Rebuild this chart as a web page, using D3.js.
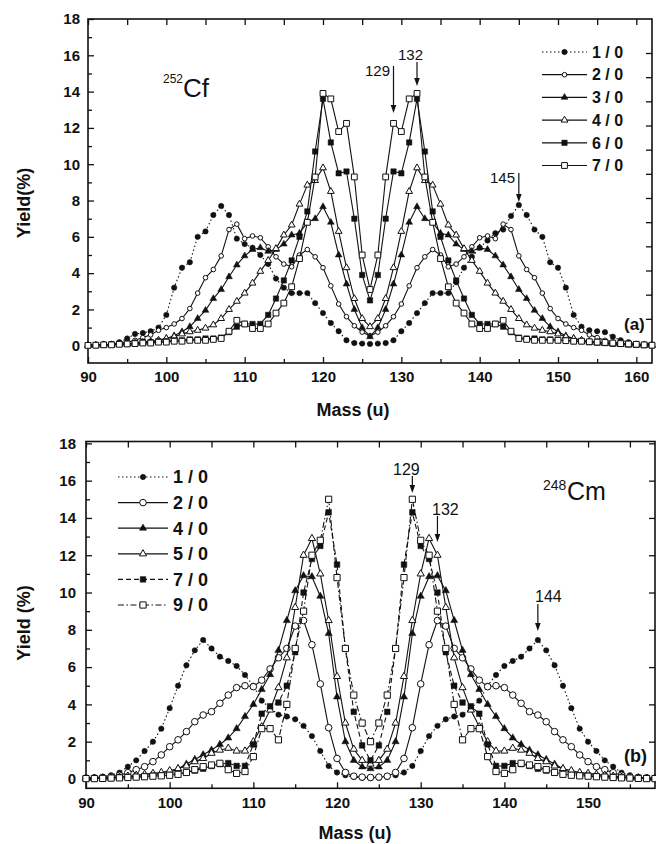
<!DOCTYPE html>
<html>
<head>
<meta charset="utf-8">
<script src="https://cdn.jsdelivr.net/npm/d3@7"></script>
<style>
  body { margin: 0; background: #fff; }
  svg { display: block; }
</style>
</head>
<body>
<svg id="chart" width="656" height="844"></svg>
<script>
// ---------- data ----------
// Mass numbers (u) on each panel
const cfMass = d3.range(90, 163);   // 90 .. 162
const cmMass = d3.range(90, 159);   // 90 .. 158

// 252Cf yields (%) per mass number, one array per curve
const cf10 = [0.05,0.05,0.08,0.1,0.2,0.4,0.65,0.7,0.8,1.0,
  1.7,3.2,4.3,4.6,6.0,6.3,7.2,7.7,7.2,5.9,
  5.6,5.4,5.0,4.5,3.7,3.2,2.9,2.9,2.9,2.35,
  1.8,1.25,0.8,0.3,0.15,0.12,0.1,0.12,0.15,0.3,
  0.8,1.25,1.8,2.35,2.9,2.9,2.9,3.5,4.3,4.9,
  5.4,5.8,6.2,6.4,7.15,7.75,7.2,6.4,6.0,4.6,
  4.3,3.2,1.7,1.05,0.85,0.8,0.75,0.5,0.3,0.2,
  0.1,0.08,0.05];
const cf20 = [0.05,0.05,0.08,0.1,0.15,0.2,0.3,0.45,0.6,0.85,
  1.0,1.2,1.5,2.05,2.9,3.75,4.2,4.95,6.4,6.7,
  5.9,6.05,5.95,5.45,4.9,4.5,4.35,5.0,5.3,4.9,
  4.3,3.3,2.3,1.6,1.1,0.75,0.55,0.75,1.1,1.6,
  2.3,3.3,4.3,4.9,5.3,5.0,4.35,4.5,4.9,5.45,
  5.95,6.05,5.9,6.7,6.4,4.95,4.2,3.75,2.9,2.05,
  1.5,1.2,1.0,0.85,0.6,0.45,0.3,0.2,0.15,0.1,
  0.08,0.05,0.05];
const cf30 = [0.03,0.03,0.05,0.05,0.08,0.1,0.15,0.2,0.25,0.3,
  0.4,0.55,0.77,1.05,1.5,1.95,2.6,3.1,3.8,4.45,
  4.95,5.3,5.4,5.2,5.3,5.6,6.1,6.2,6.8,7.0,
  7.66,6.8,5.0,3.4,2.0,1.0,0.5,1.0,2.0,3.4,
  5.0,6.8,7.66,7.0,6.8,6.2,6.1,5.6,5.3,5.2,
  5.4,5.3,4.95,4.45,3.8,3.1,2.6,1.95,1.5,1.05,
  0.77,0.55,0.4,0.3,0.25,0.2,0.15,0.1,0.08,0.05,
  0.05,0.03,0.03];
const cf40 = [0.03,0.03,0.05,0.05,0.08,0.1,0.12,0.15,0.2,0.3,
  0.4,0.5,0.65,0.77,0.85,0.97,1.15,1.5,2.0,2.45,
  2.9,3.45,4.1,4.7,5.35,6.1,6.65,7.8,8.85,9.1,
  9.8,8.5,6.3,4.3,2.6,1.5,1.05,1.5,2.6,4.3,
  6.3,8.5,9.8,9.1,8.85,7.8,6.65,6.1,5.35,4.7,
  4.1,3.45,2.9,2.45,2.0,1.5,1.15,0.97,0.85,0.77,
  0.65,0.5,0.4,0.3,0.2,0.15,0.12,0.1,0.08,0.05,
  0.05,0.03,0.03];
const cf60 = [0.02,0.03,0.05,0.08,0.1,0.12,0.15,0.2,0.2,0.25,
  0.25,0.3,0.3,0.35,0.35,0.4,0.4,0.45,0.75,1.05,
  1.2,1.2,1.2,1.7,2.6,3.6,4.7,6.0,7.4,10.7,
  13.6,11.2,9.5,9.6,7.0,3.9,2.5,3.9,7.0,9.6,
  9.5,11.2,13.6,10.7,7.4,6.0,4.7,3.6,2.6,1.7,
  1.2,1.2,1.2,1.05,0.75,0.45,0.4,0.4,0.35,0.35,
  0.3,0.3,0.25,0.25,0.2,0.2,0.15,0.12,0.1,0.08,
  0.05,0.03,0.02];
const cf70 = [0.02,0.03,0.05,0.05,0.08,0.1,0.12,0.15,0.15,0.2,
  0.2,0.25,0.25,0.3,0.3,0.3,0.35,0.4,0.8,1.4,
  1.2,0.95,0.95,1.2,1.8,2.35,3.25,4.8,6.8,9.3,
  13.9,13.6,11.8,12.25,9.3,5.0,3.1,5.0,9.3,12.25,
  11.8,13.6,13.9,9.3,6.8,4.8,3.25,2.35,1.8,1.2,
  0.95,0.95,1.2,1.4,0.8,0.4,0.35,0.3,0.3,0.3,
  0.3,0.28,0.25,0.25,0.22,0.2,0.18,0.15,0.12,0.1,
  0.08,0.05,0.03];

// 248Cm yields (%) per mass number
const cm10 = [0.05,0.07,0.12,0.2,0.34,0.66,1.0,1.5,2.0,2.7,
  3.8,5.0,6.1,6.9,7.45,7.0,6.56,6.33,6.06,5.58,
  5.0,4.2,3.8,3.45,3.35,3.2,2.85,2.3,1.5,0.7,
  0.35,0.2,0.1,0.06,0.05,0.06,0.1,0.2,0.35,0.7,
  1.5,2.3,2.85,3.2,3.35,3.45,3.8,4.2,5.0,5.58,
  6.06,6.33,6.56,7.0,7.45,6.9,6.1,5.0,3.8,2.7,
  2.0,1.5,1.0,0.66,0.34,0.2,0.12,0.07,0.05];
const cm20 = [0.05,0.06,0.08,0.12,0.2,0.34,0.5,0.66,0.93,1.29,
  1.73,2.1,2.54,3.07,3.43,3.61,4.06,4.5,4.9,5.0,
  4.95,5.3,5.9,6.5,7.0,8.2,8.5,7.2,5.1,2.75,
  1.1,0.35,0.15,0.1,0.08,0.1,0.15,0.35,1.1,2.75,
  5.1,7.2,8.5,8.2,7.0,6.5,5.9,5.3,4.95,5.0,
  4.9,4.5,4.06,3.61,3.43,3.07,2.54,2.1,1.73,1.29,
  0.93,0.66,0.5,0.34,0.2,0.12,0.08,0.06,0.05];
const cm40 = [0.03,0.04,0.05,0.07,0.1,0.12,0.15,0.2,0.25,0.3,
  0.35,0.55,0.8,1.05,1.3,1.55,1.85,2.2,2.7,3.35,
  4.0,4.8,5.6,6.9,8.5,10.1,10.9,10.85,9.8,7.8,
  4.4,2.0,1.0,0.65,0.55,0.65,1.0,2.0,4.4,7.8,
  9.8,10.85,10.9,10.1,8.5,6.9,5.6,4.8,4.0,3.35,
  2.7,2.2,1.85,1.55,1.3,1.05,0.8,0.55,0.35,0.3,
  0.25,0.2,0.15,0.12,0.1,0.07,0.05,0.04,0.03];
const cm50 = [0.03,0.04,0.05,0.07,0.1,0.15,0.2,0.25,0.3,0.35,
  0.45,0.55,0.7,0.93,1.1,1.38,1.55,1.65,1.5,1.5,
  2.0,2.8,3.7,4.9,6.5,9.2,12.0,12.9,11.0,8.5,
  5.5,3.0,1.6,1.0,0.8,1.0,1.6,3.0,5.5,8.5,
  11.0,12.9,12.0,9.2,6.5,4.9,3.7,2.8,2.0,1.5,
  1.5,1.65,1.55,1.38,1.1,0.93,0.7,0.55,0.45,0.35,
  0.3,0.25,0.2,0.15,0.1,0.07,0.05,0.04,0.03];
const cm70 = [0.02,0.03,0.04,0.05,0.08,0.1,0.12,0.15,0.18,0.2,
  0.22,0.3,0.35,0.45,0.55,0.7,0.8,0.85,0.7,0.7,
  1.85,3.5,3.9,4.1,5.0,6.8,10.0,11.8,12.5,14.3,
  11.5,7.0,3.6,1.8,1.0,1.8,3.6,7.0,11.5,14.3,
  12.5,11.8,10.0,6.8,5.0,4.1,3.9,3.5,1.85,0.7,
  0.7,0.85,0.8,0.7,0.55,0.45,0.35,0.3,0.22,0.2,
  0.18,0.15,0.12,0.1,0.08,0.05,0.04,0.03,0.02];
const cm90 = [0.02,0.02,0.03,0.05,0.06,0.08,0.1,0.12,0.15,0.17,
  0.2,0.25,0.35,0.5,0.66,0.75,0.84,0.5,0.3,0.4,
  1.2,2.7,2.7,2.1,4.0,7.0,9.0,12.0,12.8,15.0,
  10.8,7.0,4.5,3.0,2.0,3.0,4.5,7.0,10.8,15.0,
  12.8,12.0,9.0,7.0,4.0,2.1,2.7,2.7,1.2,0.4,
  0.3,0.5,0.84,0.75,0.66,0.5,0.35,0.25,0.2,0.17,
  0.15,0.12,0.1,0.08,0.06,0.05,0.03,0.02,0.02];

// Legend labels
const cfLabels = ["1 / 0", "2 / 0", "3 / 0", "4 / 0", "6 / 0", "7 / 0"];
const cmLabels = ["1 / 0", "2 / 0", "4 / 0", "5 / 0", "7 / 0", "9 / 0"];

// Tick values
const cfXTicks = [90, 100, 110, 120, 130, 140, 150, 160];
const cmXTicks = [90, 100, 110, 120, 130, 140, 150];
const yTicks = [0, 2, 4, 6, 8, 10, 12, 14, 16, 18];

// Arrow-marked masses
const cfMarked = [129, 132, 145];
const cmMarked = [129, 132, 144];

// ---------- drawing ----------
const FONT = "'Liberation Sans', Arial, Helvetica, sans-serif";
const INK = "#111";
const svg = d3.select("#chart");

function markPath(shape, size) {
  if (shape === "circle") return d3.symbol(d3.symbolCircle, Math.PI * size * size)();
  if (shape === "triangle") return d3.symbol(d3.symbolTriangle, size * size * Math.sqrt(3) / 4)();
  return d3.symbol(d3.symbolSquare, size * size)();
}

function styleAxis(g, size) {
  g.attr("font-family", FONT).attr("font-size", size).attr("font-weight", "bold");
  g.select(".domain").remove();
  g.selectAll("line").attr("stroke", INK).attr("stroke-width", 1.3);
  g.selectAll("text").attr("fill", INK);
}

function drawPanel(p) {
  const g = svg.append("g");
  const x = d3.scaleLinear().domain(p.xDomain).range([p.left, p.right]);
  const y = d3.scaleLinear().domain(p.yDomain).range([p.bottom, p.top]);

  // ticks
  const xMinor = d3.range(p.xDomain[0] + 5, p.xDomain[1], 10);
  const yMinor = d3.range(1, 18, 2);
  g.append("g").attr("transform", `translate(0,${p.bottom})`)
    .call(d3.axisBottom(x).tickValues(p.xTicks).tickSize(-6).tickPadding(p.xPad).tickFormat(d3.format("d")))
    .call(s => styleAxis(s, p.tickFont));
  g.append("g").attr("transform", `translate(0,${p.bottom})`)
    .call(d3.axisBottom(x).tickValues(xMinor).tickSize(-4).tickFormat(""))
    .call(s => styleAxis(s, p.tickFont));
  g.append("g").attr("transform", `translate(0,${p.top})`)
    .call(d3.axisTop(x).tickValues(p.xTicks.concat(xMinor)).tickSize(-6).tickFormat(""))
    .call(s => styleAxis(s, p.tickFont));
  g.append("g").attr("transform", `translate(${p.left},0)`)
    .call(d3.axisLeft(y).tickValues(yTicks).tickSize(-6).tickPadding(p.yPad).tickFormat(d3.format("d")))
    .call(s => styleAxis(s, p.tickFont));
  g.append("g").attr("transform", `translate(${p.left},0)`)
    .call(d3.axisLeft(y).tickValues(yMinor).tickSize(-4).tickFormat(""))
    .call(s => styleAxis(s, p.tickFont));
  g.append("g").attr("transform", `translate(${p.right},0)`)
    .call(d3.axisRight(p.rightScale || y).tickValues(p.rightTicks).tickSize(-6).tickFormat(""))
    .call(s => styleAxis(s, p.tickFont));

  // frame
  g.append("rect")
    .attr("x", p.left).attr("y", p.top)
    .attr("width", p.right - p.left).attr("height", p.bottom - p.top)
    .attr("fill", "none").attr("stroke", INK).attr("stroke-width", 1.6);

  // series
  const line = d3.line().x(d => x(d.m)).y(d => y(d.v));
  p.series.forEach(s => {
    const pts = p.mass.map((m, i) => ({ m, v: s.values[i] }));
    const sg = g.append("g");
    sg.append("path").datum(pts)
      .attr("d", line)
      .attr("fill", "none").attr("stroke", INK).attr("stroke-width", 1.1)
      .attr("stroke-dasharray", s.dash || null)
      .attr("stroke-linejoin", "round");
    const d = markPath(s.shape, s.size);
    sg.selectAll("path.mk").data(pts).join("path")
      .attr("class", "mk")
      .attr("d", d)
      .attr("transform", q => `translate(${x(q.m)},${y(q.v)})`)
      .attr("fill", s.filled ? INK : "#fff")
      .attr("stroke", INK).attr("stroke-width", s.filled ? 0.5 : 1);
  });

  // legend
  const lg = g.append("g");
  p.series.forEach((s, i) => {
    const ry = p.legend.y0 + i * p.legend.dy;
    lg.append("line")
      .attr("x1", p.legend.x1).attr("x2", p.legend.x2)
      .attr("y1", ry).attr("y2", ry)
      .attr("stroke", INK).attr("stroke-width", 1.2)
      .attr("stroke-dasharray", s.dash || null);
    lg.append("path")
      .attr("d", markPath(s.shape, s.size))
      .attr("transform", `translate(${(p.legend.x1 + p.legend.x2) / 2},${ry})`)
      .attr("fill", s.filled ? INK : "#fff")
      .attr("stroke", INK).attr("stroke-width", s.filled ? 0.5 : 1);
    lg.append("text")
      .attr("x", p.legend.tx).attr("y", ry + p.legend.font * 0.36)
      .attr("font-family", FONT).attr("font-size", p.legend.font).attr("font-weight", "bold")
      .attr("fill", INK)
      .text(s.label);
  });

  // arrows marking peak masses
  p.marks.forEach(a => {
    const ax = x(a.m);
    g.append("line")
      .attr("x1", ax).attr("x2", ax).attr("y1", a.y1).attr("y2", a.tip - 6)
      .attr("stroke", INK).attr("stroke-width", 1.2);
    g.append("path")
      .attr("d", `M${ax - 2.8},${a.tip - 8} L${ax + 2.8},${a.tip - 8} L${ax},${a.tip} Z`)
      .attr("fill", INK);
    g.append("text")
      .attr("x", a.tx).attr("y", a.ty)
      .attr("font-family", FONT).attr("font-size", p.markFont)
      .attr("font-weight", p.markWeight)
      .attr("fill", INK)
      .text(a.m);
  });

  // nucleus label
  g.append("text").attr("x", p.nuc.x).attr("y", p.nuc.y - p.nuc.supLift)
    .attr("font-family", FONT).attr("font-size", p.nuc.supFont).attr("fill", INK)
    .text(p.nuc.mass);
  g.append("text").attr("x", p.nuc.x2).attr("y", p.nuc.y)
    .attr("font-family", FONT).attr("font-size", p.nuc.font).attr("fill", INK)
    .text(p.nuc.sym);

  // panel tag
  g.append("text").attr("x", p.tag.x).attr("y", p.tag.y)
    .attr("font-family", FONT).attr("font-size", p.tag.font).attr("font-weight", "bold")
    .attr("fill", INK).text(p.tag.text);

  // axis titles
  g.append("text")
    .attr("x", p.xTitle.x).attr("y", p.xTitle.y)
    .attr("text-anchor", "middle")
    .attr("font-family", FONT).attr("font-size", 18).attr("font-weight", "bold")
    .attr("fill", INK).text("Mass (u)");
  g.append("text")
    .attr("transform", `translate(${p.yTitle.x},${p.yTitle.y}) rotate(-90)`)
    .attr("text-anchor", "middle")
    .attr("font-family", FONT).attr("font-size", 18).attr("font-weight", "bold")
    .attr("fill", INK).text(p.yTitle.text);
}

// Panel (a): 252Cf
drawPanel({
  left: 88, right: 652, top: 19, bottom: 363,
  xDomain: [90, 162], yDomain: [-0.95, 18],
  xTicks: cfXTicks, tickFont: 15, xPad: 8, yPad: 8,
  rightScale: d3.scaleLinear().domain([0, 12]).range([343, 53]),
  rightTicks: d3.range(0, 13),
  mass: cfMass,
  series: [
    { label: cfLabels[0], values: cf10, shape: "circle", size: 2.7, filled: true, dash: "1.5,2.5" },
    { label: cfLabels[1], values: cf20, shape: "circle", size: 2.3, filled: false },
    { label: cfLabels[2], values: cf30, shape: "triangle", size: 6.8, filled: true },
    { label: cfLabels[3], values: cf40, shape: "triangle", size: 6.8, filled: false },
    { label: cfLabels[4], values: cf60, shape: "square", size: 5.4, filled: true },
    { label: cfLabels[5], values: cf70, shape: "square", size: 5.8, filled: false }
  ],
  legend: { x1: 542, x2: 587, tx: 592, y0: 52, dy: 22.7, font: 16 },
  markFont: 15, markWeight: "normal",
  marks: [
    { m: cfMarked[0], y1: 66, tip: 113, tx: 365, ty: 76 },
    { m: cfMarked[1], y1: 62, tip: 86, tx: 398, ty: 60 },
    { m: cfMarked[2], y1: 173, tip: 202, tx: 490, ty: 183 }
  ],
  nuc: { x: 163, x2: 183, y: 97, supLift: 14, supFont: 12, font: 26, mass: "252", sym: "Cf" },
  tag: { x: 624, y: 330, font: 17, text: "(a)" },
  xTitle: { x: 353, y: 416 },
  yTitle: { x: 30, y: 203, text: "Yield(%)" }
});

// Panel (b): 248Cm
drawPanel({
  left: 86, right: 655, top: 441.5, bottom: 788.3,
  xDomain: [90, 158], yDomain: [-0.5, 18.1],
  xTicks: cmXTicks, tickFont: 15, xPad: 9, yPad: 10,
  rightTicks: yTicks,
  mass: cmMass,
  series: [
    { label: cmLabels[0], values: cm10, shape: "circle", size: 2.7, filled: true, dash: "1.5,2.5" },
    { label: cmLabels[1], values: cm20, shape: "circle", size: 3.3, filled: false },
    { label: cmLabels[2], values: cm40, shape: "triangle", size: 7.2, filled: true },
    { label: cmLabels[3], values: cm50, shape: "triangle", size: 7.2, filled: false },
    { label: cmLabels[4], values: cm70, shape: "square", size: 5.6, filled: true, dash: "5,3" },
    { label: cmLabels[5], values: cm90, shape: "square", size: 6.2, filled: false, dash: "6,2.5,1.5,2.5" }
  ],
  legend: { x1: 118, x2: 168, tx: 173, y0: 477, dy: 25.6, font: 18 },
  markFont: 16, markWeight: "normal",
  marks: [
    { m: cmMarked[0], y1: 476, tip: 493, tx: 393, ty: 475 },
    { m: cmMarked[1], y1: 516, tip: 542, tx: 432, ty: 515 },
    { m: cmMarked[2], y1: 604, tip: 631, tx: 535, ty: 602 }
  ],
  nuc: { x: 543, x2: 567, y: 500, supLift: 10, supFont: 14, font: 25, mass: "248", sym: "Cm" },
  tag: { x: 624, y: 762, font: 18, text: "(b)" },
  xTitle: { x: 355, y: 839 },
  yTitle: { x: 30, y: 623, text: "Yield (%)" }
});
</script>
</body>
</html>
